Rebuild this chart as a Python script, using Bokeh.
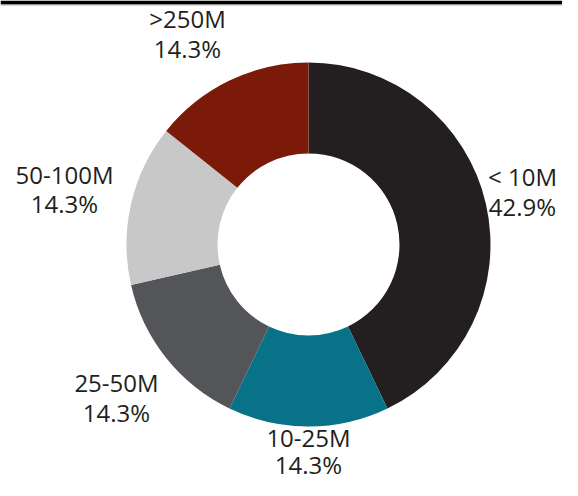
import numpy as np
from bokeh.plotting import figure
from bokeh.models import Range1d, ColumnDataSource
from bokeh.core.properties import value
from bokeh.embed import file_html
from bokeh.resources import INLINE

# ---- data ----
categories = ["< 10M", "10-25M", "25-50M", "50-100M", ">250M"]
shares = [42.9, 14.3, 14.3, 14.3, 14.3]
colors = ["#231f20", "#087388", "#545559", "#c8c8c8", "#7b1a08"]

# ---- layout ----
W, H = 562, 480
cx, cy = 308, 236
r_out, r_in = 182, 91
# label block anchors (pixel offsets from centre, first-line baseline)
label_dx = [214, 0, -192, -244, -121]
label_dy = [68, -193, -138, 70, 226]
line_gap = [30, 27, 30, 29, 30]

frac = np.array(shares) / np.sum(shares)
cum = np.concatenate([[0.0], np.cumsum(frac)])
start = np.pi / 2 - cum[1:] * 2 * np.pi
end = np.pi / 2 - cum[:-1] * 2 * np.pi

src = ColumnDataSource(dict(cat=categories, start=start, end=end, color=colors))

p = figure(width=W, height=H, x_range=Range1d(0, W), y_range=Range1d(0, H),
           output_backend="svg", toolbar_location=None, min_border=0,
           outline_line_color=None, background_fill_color="white")
p.axis.visible = False
p.grid.visible = False

p.annular_wedge(x=cx, y=cy, inner_radius=r_in, outer_radius=r_out,
                start_angle="start", end_angle="end", color="color",
                line_color=None, source=src)

# top rule
p.quad(left=0, right=W, bottom=H - 4, top=H, color="black", line_color=None)
p.segment(x0=0, x1=W, y0=H - 4.5, y1=H - 4.5, line_color="#b0b0b0", line_width=1)

pct = [f"{s:.1f}%" for s in shares]
lx = [cx + d for d in label_dx]
ly1 = [cy + d for d in label_dy]
ly2 = [y - g for y, g in zip(ly1, line_gap)]
lab = ColumnDataSource(dict(x=lx, y1=ly1, y2=ly2, name=categories, pct=pct))
for ycol, tcol in (("y1", "name"), ("y2", "pct")):
    p.text(x="x", y=ycol, text=tcol, source=lab, text_align="center",
           text_baseline="alphabetic", text_font=value("Open Sans"),
           text_font_size="24px", text_color="#231f20")

open("out.html", "w").write(file_html(p, INLINE))
